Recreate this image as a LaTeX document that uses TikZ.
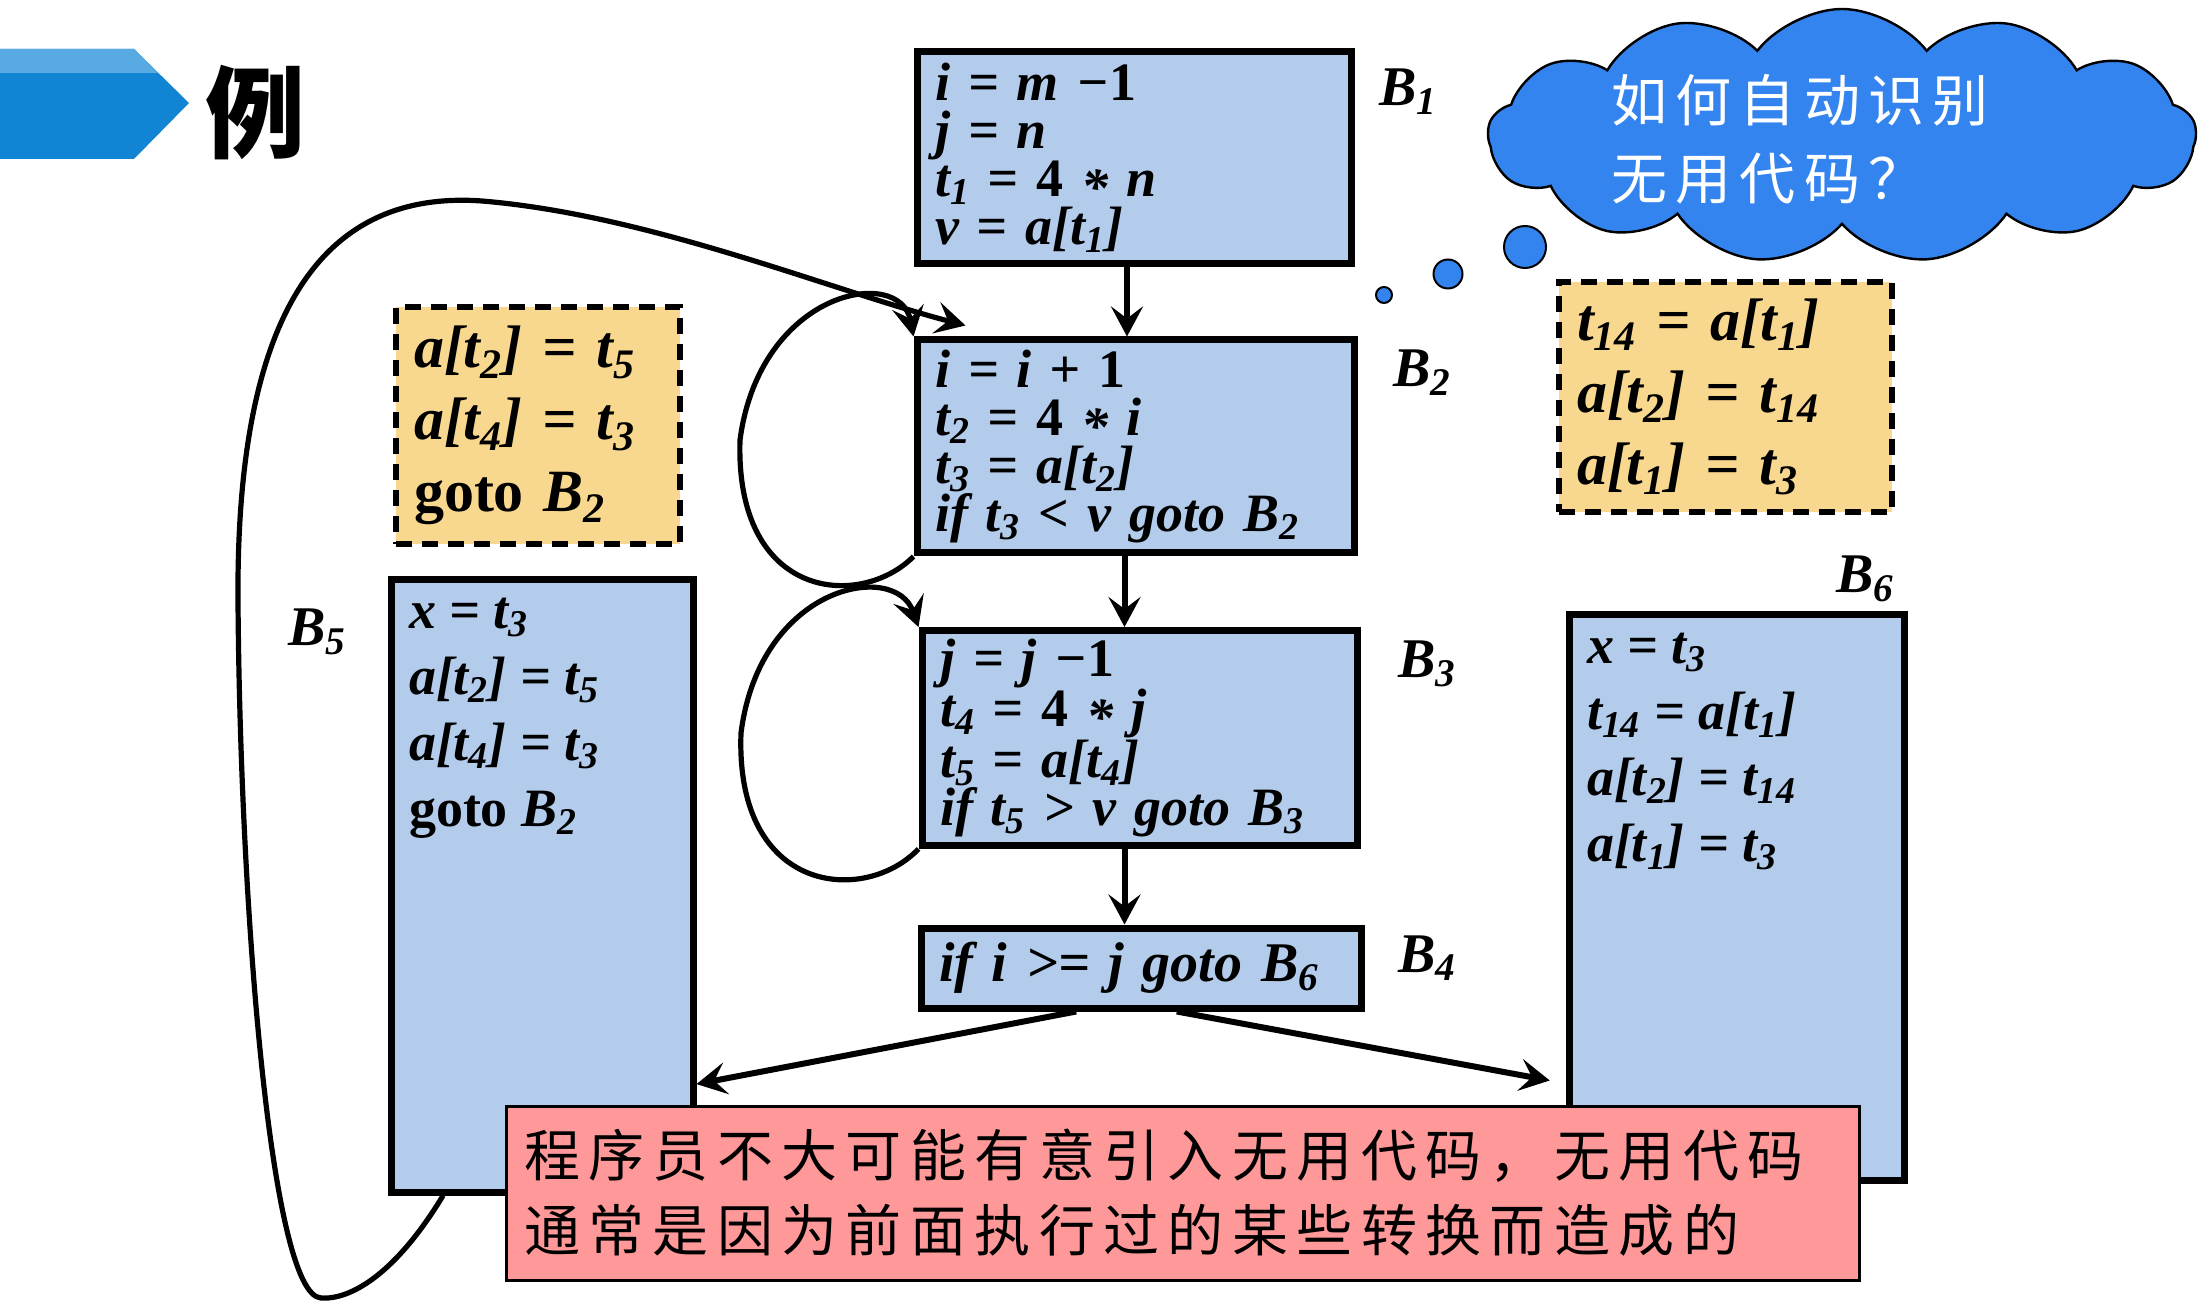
\documentclass[tikz,border=0pt]{standalone}
\usepackage{fontspec}
\setmainfont{Liberation Serif}
\newfontfamily\cjk{Noto Sans CJK SC}[LetterSpace=15]
\newfontfamily\cjkhead{Noto Sans CJK SC}
\usetikzlibrary{calc,positioning,arrows.meta,shapes.symbols}
\definecolor{blockblue}{RGB}{180,204,236}
\definecolor{deadyellow}{RGB}{248,216,142}
\definecolor{notepink}{RGB}{255,153,153}
\definecolor{cloudblue}{RGB}{52,132,240}
\definecolor{bardark}{RGB}{18,132,212}
\definecolor{barlight}{RGB}{88,170,226}
\newcommand{\ts}[1]{t\textsubscript{#1}}
\newcommand{\Bn}[1]{B\textsubscript{#1}}
\newcommand{\mul}{\raisebox{-0.35ex}{*}}
\tikzstyle{block} = [rectangle, draw=black, line width=3.5pt, fill=blockblue, inner xsep=9pt, inner ysep=4pt, align=left, font=\bfseries\itshape\fontsize{27}{24}\selectfont]
\tikzstyle{tallblock} = [block, inner ysep=9pt, font=\bfseries\itshape\fontsize{27}{33}\selectfont]
\tikzstyle{dead} = [rectangle, draw=black, line width=3pt, dash pattern=on 8pt off 5pt, fill=deadyellow, inner xsep=9pt, align=left, font=\bfseries\itshape\fontsize{30}{36}\selectfont]
\tikzstyle{blabel} = [font=\bfseries\itshape\fontsize{28}{28}\selectfont]
\tikzstyle{note} = [rectangle, draw=black, line width=1.5pt, fill=notepink, inner xsep=9pt, align=left, font=\cjk\fontsize{28}{37.5}\selectfont]
\tikzstyle{bubble} = [circle, draw=black, line width=1pt, fill=cloudblue, inner sep=0pt]
\tikzstyle{arrow} = [line width=3pt, ->, >={Stealth[length=15pt,width=16pt,inset=6pt]}]
\tikzstyle{backedge} = [line width=2.6pt, ->, >={Stealth[length=15pt,width=16pt,inset=6pt]}]
\begin{document}
\begin{tikzpicture}[x=0.5pt,y=-0.5pt]
\useasboundingbox (0,0) rectangle (2208,1304);
% title bar
\fill[bardark] (0,49) -- (134,49) -- (189,103) -- (134,159) -- (0,159) -- cycle;
\fill[barlight] (0,49) -- (134,49) -- (158,73) -- (0,73) -- cycle;
\node (title) [font=\cjkhead\bfseries\fontsize{50}{50}\selectfont] at (255,113) {例};
% basic blocks
\node (B1) [block, text width=199pt, minimum height=106pt] at (1134,158)
  {i = m −\textup{1}\\ j = n\\ \ts{1} = \textup{4} \mul{} n\\ v = a[\ts{1}]};
\node (B2) [block, text width=200.5pt, minimum height=106.5pt] at (1135.5,446.5)
  {i = i + \textup{1}\\ \ts{2} = \textup{4} \mul{} i\\ \ts{3} = a[\ts{2}]\\ if \ts{3} < v goto \Bn{2}};
\node (B3) [block, text width=199.5pt, minimum height=104pt] at (1139.5,738)
  {j = j −\textup{1}\\ \ts{4} = \textup{4} \mul{} j\\ \ts{5} = a[\ts{4}]\\ if \ts{5} > v goto \Bn{3}};
\node (B4) [block, text width=202pt, minimum height=40pt, font=\bfseries\itshape\fontsize{28}{28}\selectfont] at (1141,968)
  {if i >= j goto \Bn{6}};
\node (B5) [tallblock] at (542,886)
  {\parbox[c][288pt][t]{133pt}{x = \ts{3}\\ a[\ts{2}] = \ts{5}\\ a[\ts{4}] = \ts{3}\\ \textup{goto} \Bn{2}}};
\node (B6) [tallblock] at (1736.5,897.5)
  {\parbox[c][264.5pt][t]{149.5pt}{x = \ts{3}\\ \ts{14} = a[\ts{1}]\\ a[\ts{2}] = \ts{14}\\ a[\ts{1}] = \ts{3}}};
% block labels
\node (L1) [blabel] at (1408,92) {\Bn{1}};
\node (L2) [blabel] at (1422,373) {\Bn{2}};
\node (L3) [blabel] at (1427,664) {\Bn{3}};
\node (L4) [blabel] at (1427,958) {\Bn{4}};
\node (L5) [blabel] at (317,632) {\Bn{5}};
\node (L6) [blabel] at (1865,579) {\Bn{6}};
% moved code
\node (deadL) [dead, text width=124pt, minimum height=118.5pt] at (538,425.5)
  {a[\ts{2}] = \ts{5}\\ a[\ts{4}] = \ts{3}\\ \textup{goto} \Bn{2}};
\node (deadR) [dead, text width=148.5pt, minimum height=115pt] at (1725.5,397)
  {\ts{14} = a[\ts{1}]\\ a[\ts{2}] = \ts{14}\\ a[\ts{1}] = \ts{3}};
% thought cloud
\node (cloud) [cloud, cloud puffs=13, cloud puff arc=105, cloud ignores aspect, minimum width=354pt, minimum height=127pt, fill=cloudblue, draw=black, line width=1.2pt] at (1842,136) {};
\node (question) [text=white, align=left, font=\cjk\fontsize{28}{39}\selectfont] at (1800,139) {如何自动识别\\无用代码？};
\node (bub1) [bubble, minimum size=21pt] at (1525,247) {};
\node (bub2) [bubble, minimum size=14.5pt] at (1448,274) {};
\node (bub3) [bubble, minimum size=8pt] at (1384,295) {};
% edges
\draw [arrow] ($(B1.south)+(-7,0)$) -- ($(B1.south |- B2.north)+(-7,0)$);
\draw [arrow] ($(B2.south)+(-11,0)$) -- ($(B2.south |- B3.north)+(-11,0)$);
\draw [arrow] ($(B3.south)+(-15,0)$) -- ($(B3.south |- B4.north)+(-15,0)$);
\draw [arrow] ($(B4.south west)!0.355!(B4.south east)$) -- ($(B5.north east)!0.82!(B5.south east)$);
\draw [arrow, shorten >=8pt] ($(B4.south west)!0.58!(B4.south east)$) -- ($(B6.north west)!0.825!(B6.south west)$);
\draw [backedge] (B2.south west) .. controls (860,610) and (735,600) .. (740,440)
  .. controls (760,290) and (900,265) .. (B2.north west);
\draw [backedge] (B3.south west) .. controls (865,905) and (735,895) .. (741,733)
  .. controls (760,585) and (895,560) .. (B3.north west);
\draw [backedge] ($(B5.south west)!0.18!(B5.south east)$) .. controls (395,1275) and (350,1300) .. (321,1298)
  .. controls (270,1295) and (240,900) .. (238,600)
  .. controls (236,300) and (330,190) .. (482,201)
  .. controls (650,215) and (830,290) .. ($(B2.north west)+(52,-11)$);
% remark
\node (remark) [note, text width=658.5pt, minimum height=87pt] at (1182.5,1193)
  {程序员不大可能有意引入无用代码，无用代码\\通常是因为前面执行过的某些转换而造成的};
\end{tikzpicture}
\end{document}
